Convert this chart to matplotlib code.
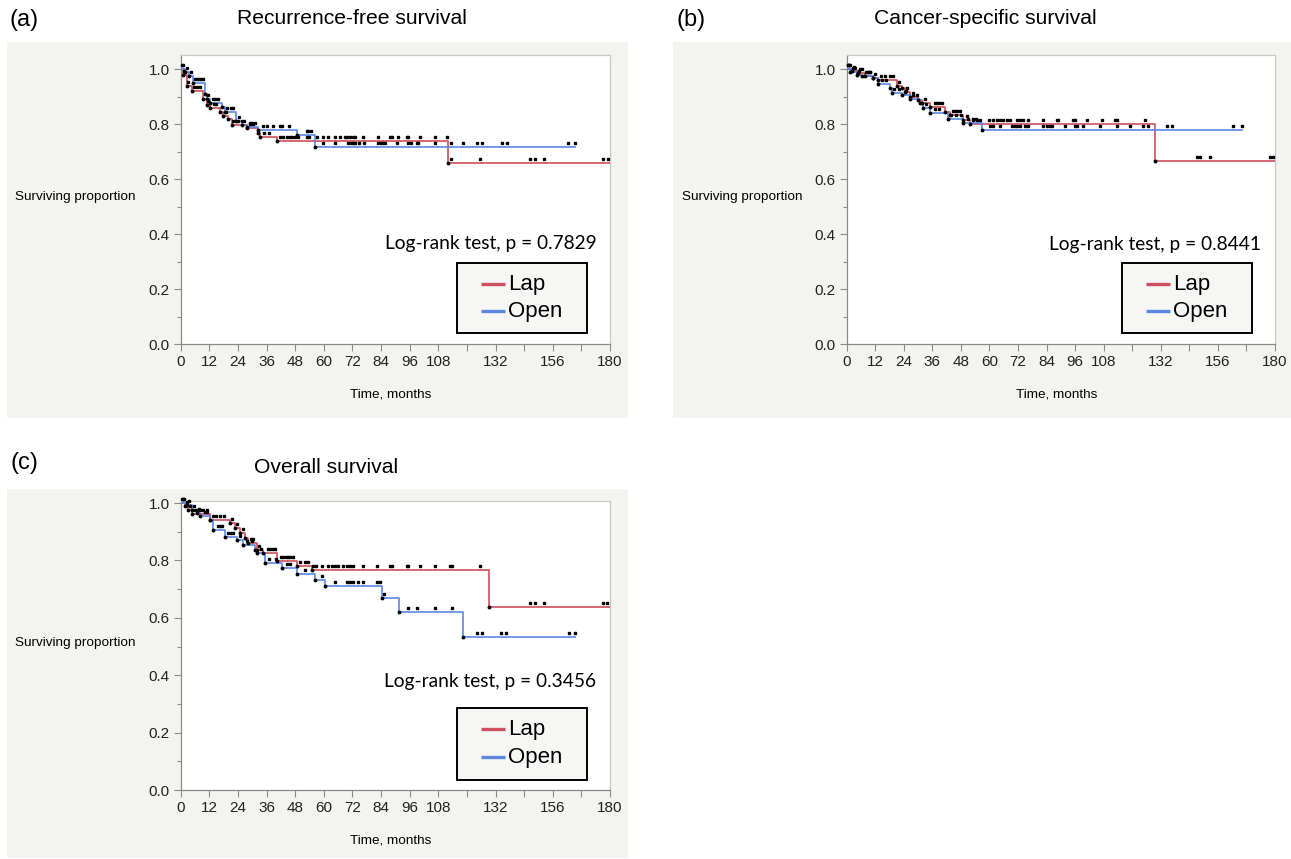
import matplotlib
matplotlib.use("Agg")
import matplotlib.pyplot as plt
import matplotlib.transforms as mtransforms
from matplotlib.patches import Rectangle
import numpy as np

plt.rcParams['font.family'] = ['Liberation Sans', 'DejaVu Sans']

# ---- data ----
group_names = ["Lap", "Open"]
month_ticks = [0, 12, 24, 36, 48, 60, 72, 84, 96, 108, 120, 132, 144, 156, 168, 180]
month_labels = ["0", "12", "24", "36", "48", "60", "72", "84", "96", "108", "", "132", "", "156", "", "180"]

# (a) recurrence-free survival
a_lap_t = [0.8, 2.5, 4.6, 9.5, 10.9, 12.3, 16.5, 17.9, 20.0, 21.4, 27.7, 32.6, 33.3, 40.3, 112.2]
a_lap_s = [0.98, 0.938, 0.919, 0.89, 0.869, 0.857, 0.845, 0.83, 0.82, 0.796, 0.784, 0.766, 0.754, 0.74, 0.66]
a_lap_end = 180
a_lap_cens = [1.5, 3, 5.5, 7, 8, 11.5, 14, 15, 19, 22, 24, 25.5, 29, 30.5, 35, 37, 41.6, 43, 44.4, 45.8,
              46.5, 47.9, 49.3, 52.8, 54, 57, 59.8, 61.9, 64.7, 66.8, 68.9, 69.9, 71, 72.1, 73.1, 76.6,
              82.9, 87.8, 88.5, 91.3, 94.8, 95.5, 100.4, 106.6, 111.5, 113.3, 125.5, 146.5, 148.6, 152.5,
              177.2, 179.3]
a_open_t = [1.8, 3.5, 5.3, 10.2, 10.9, 12.3, 17.2, 18.6, 23.2, 25.6, 27.7, 32.6, 48.6, 56.3]
a_open_s = [0.99, 0.975, 0.948, 0.91, 0.89, 0.875, 0.862, 0.845, 0.81, 0.796, 0.79, 0.78, 0.761, 0.718]
a_open_end = 165.3
a_open_cens = [0.5, 1, 2.5, 4.5, 6, 6.8, 7.6, 8.4, 9.2, 11.5, 13.5, 14.5, 15.5, 19.5, 21, 22, 24.5, 26.5,
               29, 30, 31, 34.7, 36, 38.9, 41.6, 42.3, 45.6, 52.8, 53.5, 54.5, 59.8, 64.7, 70.3, 71.3,
               72.4, 73.1, 74.9, 76.9, 82.9, 83.9, 85, 85.7, 90.6, 95.5, 96.4, 99, 99.6, 106.6, 113.3,
               118.5, 124.1, 126.2, 134.6, 136.7, 162.5, 165.3]

# (b) cancer-specific survival
b_lap_t = [2.1, 4.9, 7.7, 11.2, 13.3, 21.0, 23.1, 24.5, 26.6, 30.1, 31.5, 35.0, 41.3, 43.4, 49.0, 52.0, 129.6]
b_lap_s = [0.994, 0.984, 0.975, 0.966, 0.96, 0.938, 0.93, 0.918, 0.9, 0.887, 0.875, 0.863, 0.845, 0.833,
           0.815, 0.8, 0.665]
b_lap_end = 180
b_lap_cens = [0.5, 1, 1.5, 3, 5.5, 6.5, 9, 10, 12, 14.5, 16, 18, 19.5, 22, 25.5, 28, 33, 37, 38, 39, 40,
              44.5, 45.5, 46.5, 47.5, 50.4, 53.2, 54.6, 56, 60, 61.6, 63, 64.4, 65.8, 67.2, 68.6, 71.4,
              72.8, 74.2, 76.3, 82.7, 88.3, 89, 95.3, 96, 100.9, 107.2, 112.8, 113.5, 125.4, 147.1,
              148.5, 152.7, 177.9, 179.3]
b_open_t = [1.4, 4.2, 6.3, 11.2, 13.3, 18.2, 18.9, 23.1, 26.6, 30.8, 32.2, 35.0, 42.7, 49.0, 56.7]
b_open_s = [0.99, 0.98, 0.975, 0.966, 0.945, 0.93, 0.914, 0.905, 0.89, 0.875, 0.857, 0.84, 0.82, 0.802, 0.778]
b_open_end = 166
b_open_cens = [0.5, 1, 2.5, 3.5, 5, 8, 9, 10, 15, 16.5, 20, 22, 25, 28, 29.5, 33.5, 37, 39, 44, 46, 48,
               51, 53, 54.5, 60.2, 61.6, 64.4, 69.3, 70.7, 71.7, 72.8, 74.9, 76.3, 82.7, 84.1, 85.5, 86.2,
               91.8, 96, 96.7, 99.5, 106.5, 113.5, 119.1, 124.7, 126.8, 134.5, 136.6, 162.5, 166]

# (c) overall survival
c_lap_t = [1.8, 3.2, 4.6, 12.3, 20.7, 22.8, 24.9, 27.0, 28.4, 31.9, 34.7, 40.3, 48.6, 54.9, 129.4]
c_lap_s = [0.99, 0.977, 0.963, 0.942, 0.93, 0.913, 0.896, 0.878, 0.861, 0.838, 0.826, 0.797, 0.782,
           0.766, 0.637]
c_lap_end = 180
c_lap_cens = [0.5, 1, 2.5, 4, 6, 7, 8, 9.5, 11, 13.5, 15, 16.5, 18, 21.5, 23.5, 26, 29.5, 30.5, 33, 36.5,
              37.5, 38.5, 39.5, 42, 43, 44, 45, 46, 47, 50, 52, 53.5, 55.6, 56.9, 59.1, 61.9, 63.3, 64.7,
              66.1, 68.2, 69.6, 71, 72.4, 76.6, 82.4, 87.7, 88.4, 94.7, 95.4, 100.3, 106.6, 112.9, 113.6,
              125.5, 146.4, 148.5, 152.5, 177.2, 178.9]
c_open_t = [2.5, 4.6, 6.7, 8.1, 12.3, 13.7, 18.6, 23.5, 26.3, 31.2, 31.9, 35.4, 42.3, 48.6, 56.3, 60.5,
            84.6, 91.5, 118.5]
c_open_s = [0.994, 0.977, 0.965, 0.954, 0.942, 0.907, 0.882, 0.87, 0.855, 0.838, 0.826, 0.791, 0.774,
            0.754, 0.733, 0.71, 0.67, 0.62, 0.534]
c_open_end = 165.3
c_open_cens = [1, 1.5, 3.5, 5.5, 7.5, 10, 11, 15.5, 16.5, 17.5, 20, 21, 22, 25, 28, 30, 33.5, 37, 40,
               44.5, 46, 52, 59.1, 64.7, 69.6, 71, 72.4, 74.5, 76.6, 82.4, 83.6, 85.4, 95.4, 98.9, 106.6,
               113.6, 124.4, 126.2, 134.3, 136.4, 162.6, 165.3]

titles = ["Recurrence-free survival", "Cancer-specific survival", "Overall survival"]
tags = ["(a)", "(b)", "(c)"]
pvalues = ["0.7829", "0.8441", "0.3456"]

colors = {"Lap": "#cf4f5f", "Open": "#5b87e3"}

W, H = 1291, 859
fig = plt.figure(figsize=(W / 100, H / 100), dpi=100)


def px_rect(x0, y0, x1, y1):
    # pixel box (top-left origin) -> figure fraction [left, bottom, width, height]
    return [x0 / W, 1 - y1 / H, (x1 - x0) / W, (y1 - y0) / H]


def km_curve(ax, t, s, end, cens, color):
    t = np.asarray(t)
    s = np.asarray(s)
    xs = np.r_[0, t, end]
    ys = np.r_[1.0, s, s[-1]]
    ax.step(xs, ys, where="post", color=color, lw=1.2, zorder=3)
    # event dots at each drop
    ax.plot(t, s, "o", ms=1.8, color="black", zorder=4)
    # censor ticks, drawn just above the curve
    cens = np.asarray(cens)
    idx = np.searchsorted(t, cens, side="right")
    cy = np.r_[1.0, s][idx]
    up = mtransforms.offset_copy(ax.transData, fig=fig, y=4, units="dots")
    ax.plot(cens, cy, "s", ms=1.5, color="black", transform=up, zorder=4, clip_on=False)


def box_legend(ax, y0, y1, rows):
    # JMP-style legend box, placed in axes fraction
    ax.add_patch(Rectangle((0.6436, y0), 0.9464 - 0.6436, y1 - y0, transform=ax.transAxes,
                           facecolor="#f6f6f4", edgecolor="black", lw=1.4, zorder=6))
    for name, yr in zip(group_names, rows):
        ax.plot([0.699, 0.755], [yr, yr], transform=ax.transAxes, color=colors[name],
                lw=2.4, solid_capstyle="butt", zorder=7)
        ax.text(0.762, yr, name, transform=ax.transAxes, fontsize=16, ha="left",
                va="center", zorder=7)


panels = [
    dict(bg=(7, 42, 628, 418), ax=(180.7, 55, 610, 344), ytop=1.051, tag=(24, 20), title=(352, 18),
         leg=(0.038, 0.280, (0.207, 0.114)), ptxt=0.349,
         curves=[(a_lap_t, a_lap_s, a_lap_end, a_lap_cens), (a_open_t, a_open_s, a_open_end, a_open_cens)]),
    dict(bg=(673, 42, 1291, 418), ax=(846.7, 55, 1275, 344), ytop=1.051, tag=(691, 20), title=(985, 18),
         leg=(0.038, 0.280, (0.207, 0.114)), ptxt=0.343,
         curves=[(b_lap_t, b_lap_s, b_lap_end, b_lap_cens), (b_open_t, b_open_s, b_open_end, b_open_cens)]),
    dict(bg=(7, 489, 628, 858), ax=(180.7, 501, 610, 790), ytop=1.007, tag=(24, 463), title=(326, 467),
         leg=(0.035, 0.284, (0.211, 0.114)), ptxt=0.374,
         curves=[(c_lap_t, c_lap_s, c_lap_end, c_lap_cens), (c_open_t, c_open_s, c_open_end, c_open_cens)]),
]

for i, p in enumerate(panels):
    bx0, by0, bx1, by1 = p["bg"]
    bg = Rectangle((bx0 / W, 1 - by1 / H), (bx1 - bx0) / W, (by1 - by0) / H,
                   transform=fig.transFigure, facecolor="#f3f3f0", edgecolor="none", zorder=-10)
    fig.add_artist(bg)
    fig.text(p["tag"][0] / W, 1 - p["tag"][1] / H, tags[i], fontsize=17, ha="center", va="center")
    fig.text(p["title"][0] / W, 1 - p["title"][1] / H, titles[i], fontsize=15.2, ha="center", va="center")

    ax = fig.add_axes(px_rect(*p["ax"]), zorder=1)
    ax.set_facecolor("white")
    for (t, s, end, cens), name in zip(p["curves"], group_names):
        km_curve(ax, t, s, end, cens, colors[name])

    ax.set_xlim(0, 180)
    ax.set_ylim(0, p["ytop"])
    ax.set_xticks(month_ticks)
    ax.set_xticklabels(month_labels)
    ax.set_yticks([0, 0.2, 0.4, 0.6, 0.8, 1.0])
    ax.set_yticklabels(["0.0", "0.2", "0.4", "0.6", "0.8", "1.0"])
    ax.set_yticks(np.arange(0.1, 1.0, 0.2), minor=True)
    ax.tick_params(axis="both", which="major", direction="out", length=5, width=0.8,
                   color="#8a8a8a", labelsize=11, labelcolor="#222222", pad=3)
    ax.tick_params(axis="y", which="minor", direction="out", length=3, width=0.8, color="#8a8a8a")
    for side in ["top", "right"]:
        ax.spines[side].set_color("#c8c8c8")
    for side in ["left", "bottom"]:
        ax.spines[side].set_color("#8a8a8a")
    for sp in ax.spines.values():
        sp.set_linewidth(0.9)

    ax.text(-0.245, 0.51, "Surviving proportion", transform=ax.transAxes, fontsize=9.7,
            ha="center", va="center")
    ax.text(0.49, -0.175, "Time, months", transform=ax.transAxes, fontsize=9.7,
            ha="center", va="center")

    ax.text(0.968, p["ptxt"], "Log-rank test, p = " + pvalues[i], transform=ax.transAxes,
            fontsize=13.8, family=["Lato", "DejaVu Sans"], ha="right", va="center")

    y0, y1, rows = p["leg"]
    box_legend(ax, y0, y1, rows)

fig.savefig("out.png", dpi=100)
